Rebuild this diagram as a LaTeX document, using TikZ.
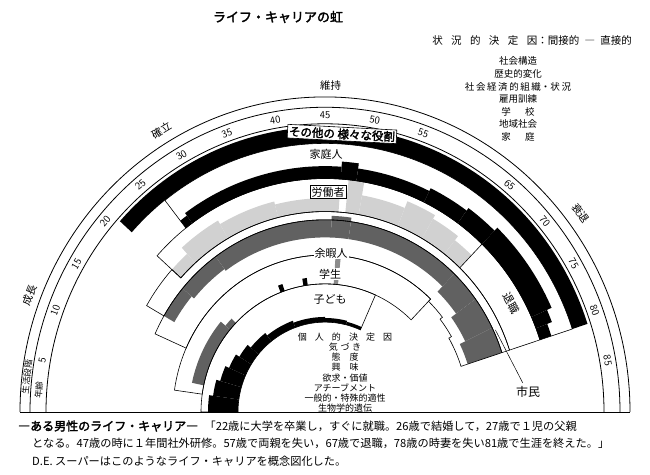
\documentclass[tikz,border=0pt]{standalone}
\usepackage{fontspec}
\newfontfamily\jp{Noto Sans CJK JP}[AutoFakeBold=2.5]
\usetikzlibrary{positioning}

% piece of a role band: style, list of age1/age2/r1/r2
\newcommand{\rolefill}[2]{%
  \foreach \p/\q/\ri/\ro in {#2}{%
    \fill[#1] ({180-2*\p}:\ri) arc[start angle={180-2*\p}, end angle={180-2*\q}, radius=\ri]
      -- ({180-2*\q}:\ro) arc[start angle={180-2*\q}, end angle={180-2*\p}, radius=\ro] -- cycle;
  }}
% outline of a role ring: inner radius, outer radius, first age, last age
\newcommand{\rolering}[4]{%
  \draw[ring] ({180-2*#3}:#1) arc[start angle={180-2*#3}, end angle={180-2*#4}, radius=#1]
    -- ({180-2*#4}:#2) arc[start angle={180-2*#4}, end angle={180-2*#3}, radius=#2] -- cycle;}

\begin{document}
\begin{tikzpicture}[
    x=1pt, y=1pt,
    ring/.style={draw, line width=0.6pt},
    arcline/.style={draw, line width=0.8pt},
    agenum/.style={font=\sffamily\fontsize{10.5}{10.5}\selectfont, inner sep=0pt},
    stage/.style={font=\jp\fontsize{10.5}{11}\selectfont, inner sep=0pt},
    rolelab/.style={font=\jp\fontsize{11}{11}\selectfont, fill=white, inner sep=1pt},
    rolebox/.style={rolelab, draw, line width=0.6pt, inner sep=1.5pt},
    darkdots/.style={fill=black!62},
    lightdots/.style={fill=black!18},
    factor/.style={font=\jp\fontsize{9.5}{10}\selectfont, inner sep=0pt},
    inner/.style={font=\jp\fontsize{9}{9}\selectfont, inner sep=0pt},
    caption/.style={font=\jp\fontsize{11.2}{12}\selectfont, inner sep=0pt, anchor=west}
]
\useasboundingbox (0,0) rectangle (650,474);

% the rainbow, centre on the base line
\begin{scope}[shift={(325,62)}, yscale=1.033]
  % role fills
  \rolefill{fill=black}{0/4/87/117, 4/8/87/113, 8/12/87/109, 12/16/87/105, 16/20/87/101,
    20/26/87/97, 26/35/87/94, 35/45/87/92, 45/52/87/91, 52/57/87/90}
  \rolefill{darkdots}{6/20/124/136, 20/22/124/130}
  \rolefill{fill=black}{34.5/35.5/124/131, 40/41/124/131}
  \rolefill{fill=black!45}{47/48/124/152}
  \rolefill{darkdots}{15/20/174/186, 20/27/171/186, 27/46/169/186, 46/49/169/190,
    49/67/169/186, 67/72/162/186, 72/77/156/186, 77/81/150/186}
  \rolefill{lightdots}{21/24/194/206, 24/30/194/214, 30/38/194/210, 38/47/194/207,
    48/50/194/226, 50/56/194/213, 56/60/194/220, 60/64/194/216, 64/67/194/211}
  \rolefill{fill=black}{26/27/226/235, 27/47/226/238, 47/49/226/243, 49/58/226/238,
    58/63/226/241, 63/67/226/244, 67/78/226/248, 78/79.5/226/243, 79.5/81/226/238}
  \rolefill{fill=black}{21/81/260/276}

  % role rings
  \rolering{87}{124}{0}{57}
  \rolering{124}{152}{4}{67}
  \draw[ring] (156:152) arc[start angle=156, end angle=46, radius=152]
    -- (46:149) arc[start angle=46, end angle=38, radius=149]
    -- (38:146) arc[start angle=38, end angle=30, radius=146]
    -- (30:143) arc[start angle=30, end angle=18, radius=143]
    -- (18:186) arc[start angle=18, end angle=156, radius=186] -- cycle;
  \draw[ring] (150:186) arc[start angle=150, end angle=18, radius=186]
    -- (18:194) arc[start angle=18, end angle=138, radius=194]
    -- (138:206) arc[start angle=138, end angle=150, radius=206] -- cycle;
  \rolering{194}{226}{21}{81}
  \rolering{226}{260}{26}{81}
  \draw[ring] (46:194) -- (46:226);

  % life stage and age bands
  \draw[arcline] (180:305) arc[start angle=180, end angle=0, radius=305];
  \draw[arcline] (180:295) arc[start angle=180, end angle=0, radius=295];
  \draw[arcline] (180:279) arc[start angle=180, end angle=0, radius=279];
  \draw[line width=1pt] (180:305) -- (0:305);

  \foreach \n in {5,10,15,20,25,30,35,40,45,50,55,65,70,75,80,85}
    \node[agenum, rotate={90-2*\n}] at ({180-2*\n}:287) {\n};

  \node[stage, rotate=69] (growth) at (159:316) {成長};
  \node[stage, rotate=31] (establish) at (121:318) {確立};
  \node[stage] (maintain) at (89:316) {維持};
  \node[stage, rotate=-53] (decline) at (37:320) {衰退};

  \node[stage, font=\jp\fontsize{8.5}{9}\selectfont, rotate=83.5] (lifestage) at (173.5:300) {生活段階};
  \node[stage, font=\jp\fontsize{8.5}{9}\selectfont, rotate=85.7] (agelab) at (175.7:287) {年齢};

  \node[rolelab, fill=none, rotate=-60.6] (retire) at ({180-2*75.3}:214) {退職};
  \coordinate (citz) at ({180-2*77.5}:188);
\end{scope}

% role names
\node[rolebox, font=\jp\bfseries\fontsize{11.5}{12}\selectfont, rotate=-3] (others) at (342,340) {その他の 様々な役割};
\node[rolelab] (home) at (326,320) {家庭人};
\node[rolebox] (worker) at (328,282) {労働者};
\node[rolelab] (leisure) at (331,221) {余暇人};
\node[rolelab] (student) at (330,200) {学生};
\node[rolelab] (child) at (330,175) {子ども};
\node[font=\jp\fontsize{12}{12}\selectfont] (citizen) at (528,82) {市民};
\draw[line width=0.5pt] (citizen.120) -- (citz);

% title and situational determinants
\node[font=\jp\bfseries\fontsize{13}{13}\selectfont] (title) at (278,457) {ライフ・キャリアの虹};
\node[factor, font=\jp\fontsize{10.5}{11}\selectfont] (sit) at (532,433)
  {状\hspace{.8em}況\hspace{.8em}的\hspace{.8em}決\hspace{.8em}定\hspace{.8em}因：間接的\hspace{.5em}―\hspace{.5em}直接的};
\node[factor] (f1) at (518,413) {社会構造};
\node[factor] (f2) at (518,400) {歴史的変化};
\node[factor] (f3) at (518,387) {社\,会\,経\,済\,的\,組\,織・状\,況};
\node[factor] (f4) at (518,375) {雇用訓練};
\node[factor] (f5) at (518,362) {学\hspace{1.5em}校};
\node[factor] (f6) at (518,350) {地域社会};
\node[factor] (f7) at (518,337) {家\hspace{1.5em}庭};

% personal determinants
\node[inner] (p0) at (345,137) {個\hspace{.9em}人\hspace{.9em}的\hspace{.9em}決\hspace{.9em}定\hspace{.9em}因};
\node[inner] (p1) at (345,127) {気\hspace{.3em}づ\hspace{.3em}き};
\node[inner] (p2) at (345,117) {態\hspace{1em}度};
\node[inner] (p3) at (345,107) {興\hspace{1em}味};
\node[inner] (p4) at (345,96) {欲求・価値};
\node[inner] (p5) at (345,86) {アチーブメント};
\node[inner] (p6) at (345,76) {一般的・特殊的適性};
\node[inner] (p7) at (345,66) {生物学的遺伝};

% caption
\node[caption, font=\jp\bfseries\fontsize{12}{12}\selectfont] (cap0) at (18,48) {―ある男性のライフ・キャリア―};
\node[caption, right=6pt of cap0] (cap1) {「22歳に大学を卒業し，すぐに就職。26歳で結婚して，27歳で１児の父親};
\node[caption] (cap2) at (32,31) {となる。47歳の時に１年間社外研修。57歳で両親を失い，67歳で退職，78歳の時妻を失い81歳で生涯を終えた。」};
\node[caption] (cap3) at (32,13) {D.E. スーパーはこのようなライフ・キャリアを概念図化した。};
\end{tikzpicture}
\end{document}
